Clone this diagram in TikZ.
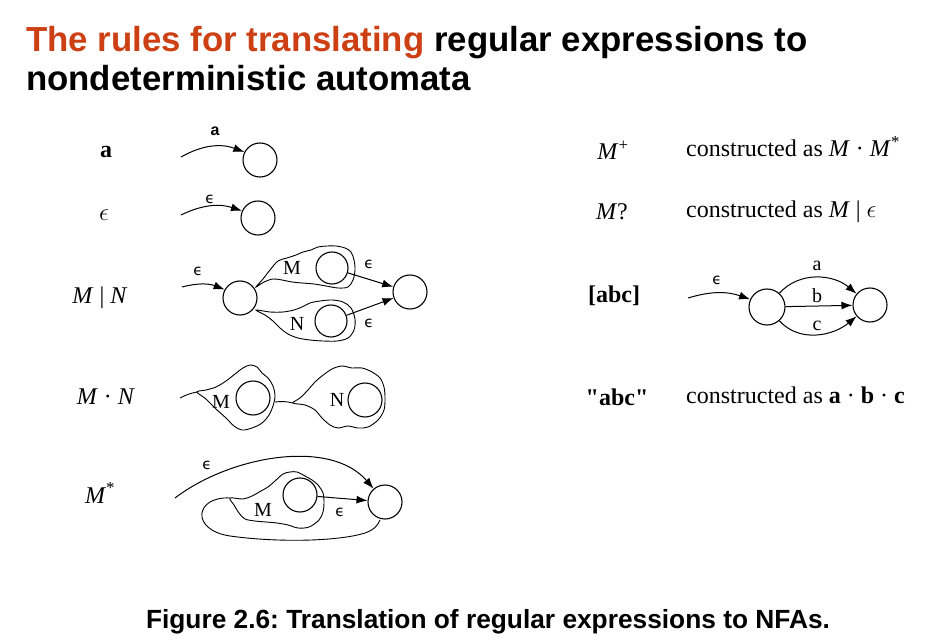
\documentclass[tikz,border=0pt]{standalone}
\usepackage{fontspec}
\setmainfont{Liberation Serif}
\newfontfamily\plainserif{Liberation Serif}
\newfontfamily\headfont{Liberation Sans}
\newfontfamily\labfont{DejaVu Sans}
\usetikzlibrary{arrows.meta}
\frenchspacing

\definecolor{titlered}{RGB}{204,64,20}

\begin{document}
\begin{tikzpicture}[x=1pt,y=-1pt,
  state/.style={circle,draw,line width=1.1pt,minimum size=34pt,inner sep=0pt},
  edge/.style={-{Latex[length=11pt,width=8pt]},line width=1pt},
  blob/.style={line width=0.9pt},
  elab/.style={font=\labfont\fontsize{15}{15}\selectfont,inner sep=0pt},
  slab/.style={font=\fontsize{20}{20}\selectfont,inner sep=0pt},
  rowlab/.style={font=\fontsize{24}{24}\selectfont,inner sep=0pt},
  ttl/.style={font=\headfont\bfseries\fontsize{34.8}{34.8}\selectfont,inner sep=0pt,anchor=base west}]

\useasboundingbox (0,0) rectangle (940,644);
\fill[white] (0,0) rectangle (940,644);

% heading
\node[ttl] (t1) at (26,52) {\textcolor{titlered}{The rules for translating} regular expressions to};
\node[ttl] (t2) at (26,91) {nondeterministic automata};

% ---- a ----
\node[rowlab] (ra) at (106,152) {\textbf{a}};
\node[state] (qa) at (260,160) {};
\coordinate (sa) at (181,157);
\draw[edge] (sa) to[bend left=25] (qa);
\node[elab,font=\headfont\bfseries\fontsize{16}{16}\selectfont] (la) at (215,131) {a};

% ---- epsilon ----
\node[rowlab] (re) at (104,215) {$\epsilon$};
\node[state] (qe) at (258,218) {};
\coordinate (se) at (181,215);
\draw[edge] (se) to[bend left=22] (qe);
\node[elab] (le) at (210,199) {ϵ};

% ---- M | N ----
\node[rowlab] (ralt) at (100,298) {\textit{M} | \textit{N}};
\node[state] (p0) at (240,298) {};
\node[state,minimum size=32pt] (pm) at (332,268) {};
\node[state,minimum size=32pt] (pn) at (331,321) {};
\node[state] (pf) at (410,292) {};
\coordinate (ps) at (182,287);
\draw[edge] (ps) to[bend left=18] (p0);
\node[elab] (lp) at (198,271) {ϵ};
\draw[blob] plot[smooth cycle,tension=0.55] coordinates {
  (256,287) (263,279) (270,270) (278,261) (287,258) (296,255) (303,252)
  (311,250) (318,247) (327,246) (336,246) (345,248) (351,252) (354,260)
  (355,270) (353,280) (348,287) (338,288) (326,286) (314,284) (302,283)
  (292,282) (282,280) (273,279) (264,282)};
\draw[blob] plot[smooth cycle,tension=0.55] coordinates {
  (256,310) (265,315) (273,321) (280,328) (288,334) (298,338) (310,340)
  (323,341) (337,341) (348,338) (354,330) (355,319) (351,308) (343,302)
  (332,300) (320,301) (310,303) (302,307) (294,310) (283,312) (270,312)};
\node[slab] (lm) at (292,268) {M};
\node[slab] (ln) at (297,324) {N};
\draw[edge] (pm) -- (pf);
\draw[edge] (pn) -- (pf);
\node[elab] (lpm) at (369,264) {ϵ};
\node[elab] (lpn) at (369,323) {ϵ};

% ---- M . N ----
\node[rowlab] (rcat) at (106,397) {\textit{M} · \textit{N}};
\node[state] (cm) at (253,398) {};
\node[state] (cn) at (365,400) {};
\coordinate (cs) at (180,398);
\coordinate (cml) at (197,392);
\coordinate (cmr) at (275,402);
\coordinate (cnl) at (293,403);
\draw[blob] (cs) to[bend left=8] (cml);
\draw[blob] plot[smooth cycle,tension=0.55] coordinates {
  (197,392) (206,390) (216,387) (226,381) (235,374) (243,368) (250,365)
  (257,367) (262,373) (268,378) (273,386) (275,396) (273,406) (269,415)
  (262,423) (252,428) (242,430) (234,426) (226,418) (216,409) (206,399)};
\draw[blob] (cmr) to[bend left=10] (cnl);
\draw[blob] plot[smooth cycle,tension=0.55] coordinates {
  (293,403) (300,398) (308,390) (315,382) (322,376) (332,369) (342,366)
  (352,368) (362,368) (372,372) (380,378) (384,387) (385,398) (384,410)
  (378,420) (368,427) (358,428) (348,426) (338,428) (330,425) (322,418)
  (315,410) (305,405)};
\node[slab] (lcm) at (221,402) {M};
\node[slab] (lcn) at (337,400) {N};

% ---- M* ----
\node[rowlab] (rstar) at (100,493) {\textit{M}\textsuperscript{*}};
\node[state] (sm) at (300,495) {};
\node[state] (sf) at (385,502) {};
\coordinate (ss) at (175,498);
\draw[edge] (ss) .. controls (230,456) and (330,438) .. (sf);
\node[elab] (lss) at (207,465) {ϵ};
\draw[blob] plot[smooth cycle,tension=0.55] coordinates {
  (230,498) (243,499) (252,496) (261,491) (268,487) (275,481) (283,474)
  (290,472) (297,472) (305,476) (312,480) (318,485) (323,493) (324,503)
  (323,512) (319,520) (309,527) (298,528) (288,525) (277,523) (266,522)
  (255,521) (245,519) (239,513) (234,505)};
\coordinate (sl) at (230,498);
\coordinate (sb) at (380,520);
\draw[blob] (sl) .. controls (195,496) and (190,530) .. (230,536)
  .. controls (280,543) and (340,541) .. (365,533)
  .. controls (374,530) and (378,525) .. (sb);
\draw[edge] (sm) -- (sf);
\node[slab] (lsm) at (263,510) {M};
\node[elab] (lsf) at (340,512) {ϵ};

% ---- right column ----
\node[rowlab] (rplus) at (613,150) {\textit{M}\textsuperscript{+}};
\node[rowlab,anchor=base west] (tplus) at (686,157) {constructed as \textit{M} · \textit{M}\textsuperscript{*}};
\node[rowlab] (ropt) at (612,212) {\textit{M}?};
\node[rowlab,anchor=base west] (topt) at (686,218) {constructed as \textit{M} | $\epsilon$};

\node[rowlab] (rset) at (614,296) {\textbf{[abc]}};
\node[state,minimum size=36pt] (k1) at (767,307) {};
\node[state] (k2) at (870,305) {};
\coordinate (ks) at (688,298);
\draw[edge] (ks) to[bend left=18] (k1);
\node[elab] (lk) at (717,280) {ϵ};
\draw[edge] (k1) to[out=48,in=140] (k2);
\draw[edge] (k1) -- (k2);
\draw[edge] (k1) to[out=-48,in=-140] (k2);
\node[slab] (lka) at (817,266) {a};
\node[slab] (lkb) at (817,296) {b};
\node[slab] (lkc) at (817,326) {c};

\node[rowlab] (rstr) at (617,397) {\plainserif\bfseries "abc"};
\node[rowlab,anchor=base west] (tstr) at (686,403) {constructed as \textbf{a} · \textbf{b} · \textbf{c}};

% caption
\node[inner sep=0pt,anchor=base] (cap) at (488,628) {\headfont\bfseries\fontsize{26.3}{26.3}\selectfont Figure 2.6: Translation of regular expressions to NFAs.};
\end{tikzpicture}
\end{document}
